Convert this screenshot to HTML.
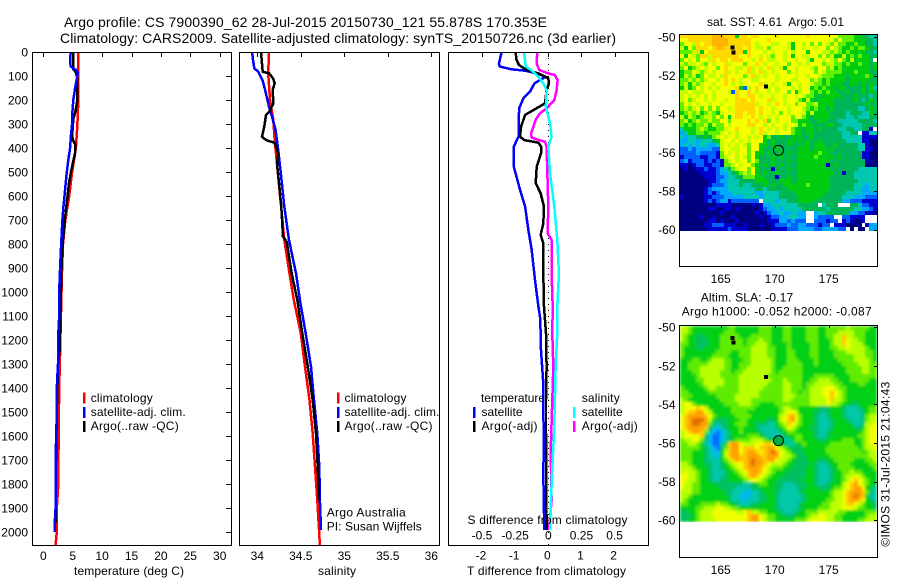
<!DOCTYPE html>
<html>
<head>
<meta charset="utf-8">
<title>Argo profile chart</title>
<style>
html,body{margin:0;padding:0;background:#fff;}
svg{display:block;}
text{font-family:"Liberation Sans",sans-serif;font-size:12px;fill:#000;white-space:pre;}
</style>
</head>
<body>
<svg id="chart" xmlns="http://www.w3.org/2000/svg" width="900" height="580" viewBox="0 0 900 580">
<defs>
<filter id="slaSmooth" x="0" y="0" width="100%" height="100%"><feGaussianBlur stdDeviation="1.2"/></filter>
<clipPath id="slaClip"><rect x="679" y="326" width="199" height="196"/></clipPath>
</defs>
<rect x="0" y="0" width="900" height="580" fill="#fff"/>
<g id="mapSst" shape-rendering="crispEdges"></g>
<g clip-path="url(#slaClip)"><g id="mapSla" shape-rendering="crispEdges" filter="url(#slaSmooth)"></g></g>
<g id="maps" shape-rendering="crispEdges"></g>
<g id="series" shape-rendering="crispEdges"></g>
<g id="frames" shape-rendering="crispEdges" fill="none" stroke="#000" stroke-width="1">
<rect x="32.5" y="52.5" width="199" height="493"/>
<rect x="239.5" y="52.5" width="200" height="493"/>
<rect x="448.5" y="52.5" width="200" height="493"/>
<rect x="679.5" y="34.5" width="198" height="232"/>
<rect x="679.5" y="325.5" width="198" height="232"/>
</g>
<g id="ticks"></g>

<text x="64" y="27" style="font-size:14px" textLength="483" lengthAdjust="spacing">Argo profile: CS 7900390_62 28-Jul-2015 20150730_121 55.878S 170.353E</text>
<text x="60" y="43" style="font-size:14px" textLength="556" lengthAdjust="spacing">Climatology: CARS2009. Satellite-adjusted climatology: synTS_20150726.nc (3d earlier)</text>

<text x="74" y="575" textLength="110" lengthAdjust="spacing">temperature (deg C)</text>
<text x="318" y="575" textLength="38" lengthAdjust="spacing">salinity</text>
<text x="467" y="575" textLength="159" lengthAdjust="spacing">T difference from climatology</text>
<text x="467.5" y="524" textLength="160" lengthAdjust="spacing">S difference from climatology</text>

<g id="legend-temperature" shape-rendering="crispEdges">
<rect x="83" y="392.5" width="2.5" height="11" fill="#f00"/>
<rect x="83" y="407" width="2.5" height="11" fill="#00f"/>
<rect x="83" y="421" width="2.5" height="11" fill="#000"/>
<text x="90.7" y="402" textLength="62" lengthAdjust="spacing">climatology</text>
<text x="90.7" y="416" textLength="95" lengthAdjust="spacing">satellite-adj. clim.</text>
<text x="90.7" y="430" textLength="88" lengthAdjust="spacing">Argo(..raw -QC)</text>
</g>
<g id="legend-salinity" shape-rendering="crispEdges">
<rect x="337" y="392.5" width="2.5" height="11" fill="#f00"/>
<rect x="337" y="407" width="2.5" height="11" fill="#00f"/>
<rect x="337" y="421" width="2.5" height="11" fill="#000"/>
<text x="344.5" y="402" textLength="62" lengthAdjust="spacing">climatology</text>
<text x="344.5" y="416" textLength="95" lengthAdjust="spacing">satellite-adj. clim.</text>
<text x="344.5" y="430" textLength="88" lengthAdjust="spacing">Argo(..raw -QC)</text>
</g>
<g id="legend-diff" shape-rendering="crispEdges">
<text x="481" y="402" textLength="64" lengthAdjust="spacing">temperature</text>
<rect x="473" y="407" width="2.5" height="11" fill="#00f"/>
<rect x="473" y="421" width="2.5" height="11" fill="#000"/>
<text x="481.5" y="416" textLength="41" lengthAdjust="spacing">satellite</text>
<text x="481.5" y="430" textLength="56" lengthAdjust="spacing">Argo(-adj)</text>
<text x="581.7" y="402" textLength="38" lengthAdjust="spacing">salinity</text>
<rect x="573" y="407" width="2.5" height="11" fill="#0ff"/>
<rect x="573" y="421" width="2.5" height="11" fill="#f0f"/>
<text x="581.7" y="416" textLength="41" lengthAdjust="spacing">satellite</text>
<text x="581.7" y="430" textLength="56" lengthAdjust="spacing">Argo(-adj)</text>
</g>

<text x="326.7" y="516.7" textLength="79" lengthAdjust="spacing">Argo Australia</text>
<text x="326.7" y="530.7" textLength="95" lengthAdjust="spacing">PI: Susan Wijffels</text>

<text x="707" y="26" textLength="137" lengthAdjust="spacing">sat. SST: 4.61  Argo: 5.01</text>
<text x="700.7" y="301.7" textLength="92.5" lengthAdjust="spacing">Altim. SLA: -0.17</text>
<text x="681.7" y="315.7" textLength="190" lengthAdjust="spacing">Argo h1000: -0.052 h2000: -0.087</text>
<text transform="translate(889.5,546.7) rotate(-90)" x="0" y="0" textLength="165" lengthAdjust="spacing">©IMOS 31-Jul-2015 21:04:43</text>
</svg>

<script>
// ---- chart data: temperature panel ----
var tClimDepth = [0,70,100,200,300,400,500,600,700,800,900,1000,1100,1250,1400,1500,1600,1800,1900,2000,2054];
var tClimValue = [5.95,5.95,5.95,5.95,5.8,5.55,4.9,4.4,3.75,3.35,3.2,3.1,3.0,2.85,2.7,2.65,2.6,2.55,2.3,2.3,2.1];
var tSatDepth = [0,30,60,75,85,100,150,200,250,300,350,400,450,500,550,600,650,700,800,900,1000,1100,1200,1300,1400,1500,1700,1900,1960,2000];
var tSatValue = [4.66,4.55,4.65,5.56,5.85,5.8,5.4,5.1,4.95,4.9,4.7,4.55,4.25,4.0,3.8,3.6,3.4,3.25,3.05,2.85,2.7,2.7,2.5,2.5,2.3,2.3,2.1,2.1,1.95,1.95];
var tArgoDepth = [0,70,85,110,150,200,250,280,350,370,385,420,500,550,650,700,800,900,1000,1100,1250,1300,1500,1800,1960];
var tArgoValue = [5.05,5.05,5.55,5.8,5.8,5.8,5.45,5.1,4.9,5.1,5.45,5.4,4.7,4.35,3.9,3.65,3.3,3.1,3.0,2.9,2.75,2.5,2.3,2.1,2.1];

// ---- chart data: salinity panel ----
var sClimDepth = [0,89,200,283,367,783,922,1033,1172,1311,1450,1589,1728,1867,2054];
var sClimValue = [34.134,34.125,34.146,34.184,34.2,34.31,34.37,34.42,34.5,34.548,34.6,34.637,34.663,34.69,34.72];
var sSatDepth = [0,33,68,82,117,158,228,270,325,408,505,644,783,922,1033,1172,1311,1450,1589,1728,1867,1992];
var sSatValue = [33.94,33.95,33.965,34.01,34.06,34.09,34.134,34.17,34.21,34.24,34.27,34.31,34.364,34.445,34.49,34.556,34.617,34.652,34.69,34.713,34.72,34.732];
var sArgoDepth = [0,82,89,110,130,158,214,249,262,311,353,367,378,394,422,464,505,575,644,769,790,922,1033,1172,1311,1450,1589,1728,1867];
var sArgoValue = [34.043,34.062,34.138,34.18,34.2,34.177,34.184,34.138,34.1,34.08,34.054,34.1,34.195,34.215,34.24,34.226,34.238,34.257,34.276,34.295,34.338,34.395,34.46,34.517,34.58,34.637,34.675,34.694,34.71];

// ---- chart data: difference panel ----
var dtSatDepth = [0,50,61,72,78,89,103,131,165,193,235,353,394,478,519,575,644,742,825,950,1061,1103,1172,1242,1381,1519,1589,1756,1992];
var dtSatValue = [-1.41,-1.49,-1.46,-1.11,-0.7,-0.35,-0.08,-0.42,-0.55,-0.75,-0.88,-0.9,-1.04,-1.04,-0.96,-0.85,-0.7,-0.6,-0.5,-0.4,-0.3,-0.25,-0.23,-0.22,-0.15,-0.15,-0.13,-0.15,-0.12];
var dtArgoDepth = [0,33,54,75,89,110,131,158,214,242,262,311,353,367,378,394,422,478,547,589,644,714,762,797,922,1061,1172,1311,1450,1589,1992];
var dtArgoValue = [-0.985,-0.96,-0.885,-0.65,-0.3,0,0.02,-0.05,-0.1,-0.45,-0.7,-0.82,-0.855,-0.72,-0.3,-0.22,-0.22,-0.35,-0.38,-0.23,-0.13,-0.15,-0.23,-0.15,-0.15,-0.13,-0.07,-0.05,-0.07,-0.07,-0.05];
var dsArgoDepth = [0,47,75,89,96,117,158,200,235,256,283,339,357,374,394,644,756,783,922,1061,1172,1311,1450,1660,1867,1992];
var dsArgoValue = [-0.083,-0.088,-0.068,0,0.05,0.07,0.063,0.045,-0.013,-0.063,-0.096,-0.13,-0.125,-0.025,-0.013,0,-0.005,0.025,0.025,0.033,0.03,0.038,0.03,0.018,0.025,0.005];
var dsSatDepth = [0,61,75,103,131,158,228,297,353,394,505,644,783,922,1061,1172,1311,1450,1589,1728,1867,1992];
var dsSatValue = [-0.184,-0.17,-0.13,-0.075,-0.038,-0.013,-0.018,0.013,0.025,0,0.013,0.045,0.068,0.08,0.068,0.068,0.055,0.05,0.043,0.03,0.02,0.013];
var zeroLineDepth = [0,2054];
var zeroLineValue = [0,0];

// ---- tick labels ----
var depthTicks = [0,100,200,300,400,500,600,700,800,900,1000,1100,1200,1300,1400,1500,1600,1700,1800,1900,2000];
var temperatureTicks = [0,5,10,15,20,25,30];
var salinityTicks = ["34","34.5","35","35.5","36"];
var tDiffTicks = ["-2","-1","0","1","2"];
var sDiffTicks = ["-0.5","-0.25","0","0.25","0.5"];
var lonTicks = [165,170,175];
var latTicks = [-50,-52,-54,-56,-58,-60];

// ---- map data (one character per cell: palette key; . = no data) ----
var paletteKeys = ["0","1","2","3","4","5","6","7","8","9","a","b","c"];
var sstColours = ["#000080","#0000d0","#0060ff","#00a8ff","#00c8b0","#00b458","#00cc10","#60f000","#c0ff00","#f4ff00","#ffd800","#ffb400","#ff9000"];
var slaColours = ["#000080","#0000d0","#0070ff","#00b8f0","#00c8a8","#00c060","#00d018","#60ec00","#b8ff00","#f0ff00","#ffc800","#ffa000","#e07000"];
var sstRows = [
"aaaaaaaabbbaaa6aa9aa9999a9999999a99999997777665544",
"99aaaaaabbbbaaaaaa9999a999999999999999979777666554",
"7998a9aabbbbaaaaaa98999889986998979798797766766554",
"8697aaa9abbaaaaa9a98897999986998998997987667677655",
"7778a69aaaaaaaaa6a99989899898999699988787676666554",
"96987aa8aaaaaaa99a99898799896998899797866867676655",
"79897998a9aa9aaa9989a9889989989986998987976866665",
"87889879899a8999799a989989979989899978877676676656",
"79678989979a99889a8989a898699899987997867666666656",
"67798789899a89899a89a89899979899997987777666766655",
"68786798898a999979a8989989999899899877766656666765",
"77878789989a9a989988999989998899978767666656666655",
"78687899899a98989999a89899869989987767666556656565",
"68679898989999a6289a9989899989899676766566555565645",
"88988899899982a99a98998989979689976767665565556565",
"89898989899999a99aa9899899899898776566666555655545",
"89789989899899aaa9a999a899899976865666655555654565",
"79898998998999aaaaa89989a9899799778666655555555655",
"78789797979989aaaaa9a99899989998767665655555544565",
"67878678768999aa9aa9a99897989998686666555545554465",
"86876788797969aa99a98989899979976566665555445444555",
"78678778779979999a9a9a79899977666556655544444555545",
"76767786877989999aa9989899899867665556655444445555",
"46667876677899a99989a9898989766566565555445544551",
"34667767778989899989a899899976656655555554455 1144",
"43445565789899899898967556556565565555555444441111",
"33443444568998989899965655566565655655555544441100",
"34343443348989898799665655565556656665565555544100",
"22323333228998899799655565555566656665655555544110",
"22223222217989899796656556565566666766555555551100",
"12222112217899898796555656555566667666656555551100",
"23122212121789899797555655565566666666555555555100",
"11012211221778989976565656555566666661565555555000",
"01001121123457899796555155565566666666555555544444",
"00000111123345678796565565555566666666655155444444",
"00000011122344557776655515565566666666555555444444",
"00000001123344455556665556665566666666555555544444",
"00000001222344454455565655666666766666555555444344",
"00000012333344444445545555566666666666555555443344",
"00000012123334444443344445555666666665555544443333",
"10000011222333334444344445555566666655555444333222",
"00000012123312222222.44434455566665555555332221111",
"00000000011110000010133444444455555.4555...5542211",
"00000001100110100000123343444445555554555555443321",
"00000000001000000001012334334433..3445555553322110",
"00000100100001000000101223344433..32222..221111...",
"00000001101000100000001113323222..222122.121001...",
"00000011222111001000100122232233222122.1110000.133",
"000000011111211110000001111222333322333322.0.00.33"
];
var slaRows = [
"88766666666677666666777666776666777667777787777766",
"88766666666777666666777666776666777667778888777666",
"87665566667777766677777666776666777667788a88777666",
"87665556667777776777877666776666777666788a98877666",
"77665556667777776778887666676666677666788a98887666",
"76665566667777777788887766676666677666778898888766",
"76666666677776677788887766677666677666677788888776",
"76666666777766677788887766677666677666677777888776",
"66677667888776667788888766677766667666667777888876",
"66777778888776677788888766677776667666666777788877",
"66777888888776677888888766777776666666666677778877",
"66677888887776778888888767777776666666666677778877",
"66667888887777788888887777777776667777766667777777",
"66667788888777788888888777877776677888776667777766",
"66666788888777788888887777887776778888877666677666",
"76666678877777788888877777887776788899987766666666",
"77666667777777788888777777887767788899a98766666666",
"77766666677777888888777777888777788899a98766666666",
"87666666667777888877777777887777788889a88766666666",
"8997666666 6777788877 6666777777 7778888988 7665566666",
"8999a98666 6667777776 6666678877 6666655566 6544456677",
"89aabb9866 6667777666 6666678998 6666554566 6544445677",
"9abbbba976 6666777766 6666689ab9 7666544566 6544445788",
"9abcccb865 5566677666 6655689ab9 7666544456 6654445788",
"9abccbb754 5566777665 5544678a98 7666544456 6665445889",
"9abbbba543 4566676665 4444567987 6665544456 6666556899",
"89abba7432 3456676666 5444456776 6666544566 6666667899",
"89999a5322 3456666777 6544445667 7666544566 6666677899",
"7889975322 3456777788 8765444467 7666655666 6777667899",
"7788764322 46abb98889 9aa9765446 6766666677 7777667899",
"7777765432 57abb9aaa9 aabb987655 5666666777 7777767889",
"7776665433 68abb9abba 9abcb98765 5666666777 7777776788",
"7776665443 68abbaabbb aabbb98876 5566666677 7777777788",
"7776665444 678abaabcb babb988765 5566655667 7777666778",
"8876665544 567899abcb ba98887665 5556544566 7776666677",
"8887666544 566789abbb a987776655 5566544456 7777666667",
"8988766544 4566789abb a987666555 5566544456 6778776666",
"9988766544 4566678aba 9876665555 5566544456 6788987666",
"9988766544 5566667899 8766655555 5666544456 6789a98766",
"9887766665 5555554456 7766554445 5566544566 689ab98766",
"9887766666 5555444455 6666554444 5566655567 789abb9664",
"8887766666 6554443344 5666544444 5666666678 89abbba754",
"8876666666 6654433344 5566544444 4566666678 89abcba644",
"8766666666 6654443444 5566544444 4566666778 89abba9654",
"7766677778 7766544455 6666544444 5666667788 89aa987665",
"6666778889 9887766666 6666544444 5666677788 8999877665",
"5566788899 9999889a88 7766654445 6677788888 7766666777",
"5556788899 9999999abb 9877665556 6678899887 7666666788",
"5566788889 9999999abb 9877666667 7789999887 7666677888"
].map(function (row) { return row.replace(/ /g, ""); });

var sstLatTop = [-49.84];
var sstLatBottom = [-60.09];
var slaLatTop = [-49.93];
var slaLatBottom = [-60.08];
var lonLeft = [161.25];
var lonRight = [179.5];
var argoLon = [170.353];
var argoLat = [-55.878];
var islandLon = [166.1, 166.2, 169.2];
var islandLat = [-50.55, -50.8, -52.57];

// ---- axis functions ----
function xTemp(v) { return 43.3 + v * 5.88; }
function xSal(v) { return 257.3 + (v - 34) * 87; }
function xDiffT(v) { return 548.3 + v * 33.15; }
function xDiffS(v) { return 548.3 + v * 132.6; }
function yDepth(d) { return 52 + d * 0.24; }
function xLon(l) { return 720.7 + (l - 165) * 10.8; }
function ySst(l) { return 37 + (-50 - l) * 19.27; }
function ySla(l) { return 327.2 + (-50 - l) * 19.3; }

var NS = "http://www.w3.org/2000/svg";
function make(tag, parent, attrs) {
  var n = document.createElementNS(NS, tag);
  for (var k in attrs) { n.setAttribute(k, attrs[k]); }
  parent.appendChild(n);
  return n;
}
var seriesG = document.getElementById("series");
var ticksG = document.getElementById("ticks");
var mapsG = document.getElementById("maps");

function pts(depths, values, xf) {
  var out = [];
  for (var i = 0; i < depths.length; i++) {
    out.push(xf(values[i]).toFixed(1) + "," + yDepth(depths[i]).toFixed(1));
  }
  return out.join(" ");
}
function line(depths, values, xf, colour) {
  return make("polyline", seriesG, { points: pts(depths, values, xf), fill: "none", stroke: colour, "stroke-width": 2.5, "stroke-linejoin": "miter" });
}

var el;
el = line(tClimDepth, tClimValue, xTemp, "#f00");


el = line(tArgoDepth, tArgoValue, xTemp, "#000");


el = line(tSatDepth, tSatValue, xTemp, "#00f");



el = line(sClimDepth, sClimValue, xSal, "#f00");


el = line(sSatDepth, sSatValue, xSal, "#00f");


el = line(sArgoDepth, sArgoValue, xSal, "#000");



el = make("polyline", seriesG, { points: pts(zeroLineDepth, zeroLineValue, xDiffT), fill: "none", stroke: "#000", "stroke-width": 1, "stroke-dasharray": "1 5" });


el = line(dtSatDepth, dtSatValue, xDiffT, "#00f");


el = line(dtArgoDepth, dtArgoValue, xDiffT, "#000");


el = line(dsArgoDepth, dsArgoValue, xDiffS, "#f0f");


el = line(dsSatDepth, dsSatValue, xDiffS, "#0ff");



// heatmaps
function drawMap(rows, colours, latTop, latBottom, yf, group, name) {
  var nRows = rows.length, nCols = 50;
  var dLat = (latTop - latBottom) / nRows;
  var dLon = (lonRight[0] - lonLeft[0]) / nCols;
  for (var i = 0; i < nRows; i++) {
    for (var j = 0; j < rows[i].length && j < nCols; j++) {
      var idx = paletteKeys.indexOf(rows[i].charAt(j));
      if (idx < 0) { continue; }
      var x0 = Math.round(xLon(lonLeft[0] + j * dLon));
      var x1 = Math.round(xLon(lonLeft[0] + (j + 1) * dLon));
      var y0 = Math.round(yf(latTop - i * dLat));
      var y1 = Math.round(yf(latTop - (i + 1) * dLat));
      var c = make("rect", group, { x: x0, y: y0, width: x1 - x0, height: y1 - y0, fill: colours[idx] });
      
      
    }
  }
}
drawMap(sstRows, sstColours, sstLatTop[0], sstLatBottom[0], ySst, document.getElementById("mapSst"), 'sst-heatmap-cell');
drawMap(slaRows, slaColours, slaLatTop[0], slaLatBottom[0], ySla, document.getElementById("mapSla"), 'sla-heatmap-cell');

// islands on both maps
for (var q = 0; q < islandLon.length; q++) {
  el = make("rect", mapsG, { x: xLon(islandLon[q]) - 2, y: ySla(islandLat[q]) - 2, width: 4, height: 4, fill: "#000" });
  
  
  el = make("rect", mapsG, { x: xLon(islandLon[q]) - 2, y: ySst(islandLat[q]) - 2, width: 4, height: 4, fill: "#000" });
  
  
}

// ticks and labels
function tickLine(x1, y1, x2, y2, name) {
  var t = make("line", ticksG, { x1: x1, y1: y1, x2: x2, y2: y2, stroke: "#000", "stroke-width": 1, "shape-rendering": "crispEdges" });
  
  
}
function label(str, x, y, anchor, name) {
  var t = make("text", ticksG, { x: x, y: y, "text-anchor": anchor });
  t.textContent = str;
  
  
}
depthTicks.forEach(function (d) {
  var y = Math.round(yDepth(d)) + 0.5;
  tickLine(226, y, 231, y, 'depth-tick');
  label(String(d), 28, yDepth(d) + 4.5, "end", 'depth-tick-label');
});
temperatureTicks.forEach(function (v) {
  var x = Math.round(xTemp(v)) + 0.5;
  tickLine(x, 52, x, 57, 'temperature-tick');
  label(String(v), xTemp(v), 560, "middle", 'temperature-tick-label');
});
salinityTicks.forEach(function (v) {
  var x = Math.round(xSal(parseFloat(v))) + 0.5;
  tickLine(x, 52, x, 57, 'salinity-tick');
  label(v, xSal(parseFloat(v)), 560, "middle", 'salinity-tick-label');
});
tDiffTicks.forEach(function (v) {
  var x = Math.round(xDiffT(parseFloat(v))) + 0.5;
  tickLine(x, 52, x, 57, 't-difference-tick');
  label(v, xDiffT(parseFloat(v)) - 1, 559.5, "middle", 't-difference-tick-label');
});
sDiffTicks.forEach(function (v) {
  label(v, xDiffS(parseFloat(v)), 539.5, "middle", 's-difference-tick-label');
});
lonTicks.forEach(function (v) {
  var x = Math.round(xLon(v)) + 0.5;
  tickLine(x, 34, x, 37, 'sst-lon-tick');
  tickLine(x, 325, x, 328, 'sla-lon-tick');
  label(String(v), xLon(v), 283, "middle", 'sst-lon-label');
  label(String(v), xLon(v), 574, "middle", 'sla-lon-label');
});
latTicks.forEach(function (v) {
  var y1 = Math.round(ySst(v)) + 0.5, y2 = Math.round(ySla(v)) + 0.5;
  tickLine(874, y1, 877, y1, 'sst-lat-tick');
  tickLine(874, y2, 877, y2, 'sla-lat-tick');
  label(String(v), 675.5, ySst(v) + 4.5, "end", 'sst-lat-label');
  label(String(v), 675.5, ySla(v) + 4.5, "end", 'sla-lat-label');
});

// Argo position markers
el = make("circle", ticksG, { cx: xLon(argoLon[0]), cy: ySst(argoLat[0]), r: 5, fill: "none", stroke: "#000", "stroke-width": 1 });


el = make("circle", ticksG, { cx: xLon(argoLon[0]), cy: ySla(argoLat[0]), r: 5, fill: "#00b040", stroke: "#000", "stroke-width": 1 });


</script>
</body>
</html>
